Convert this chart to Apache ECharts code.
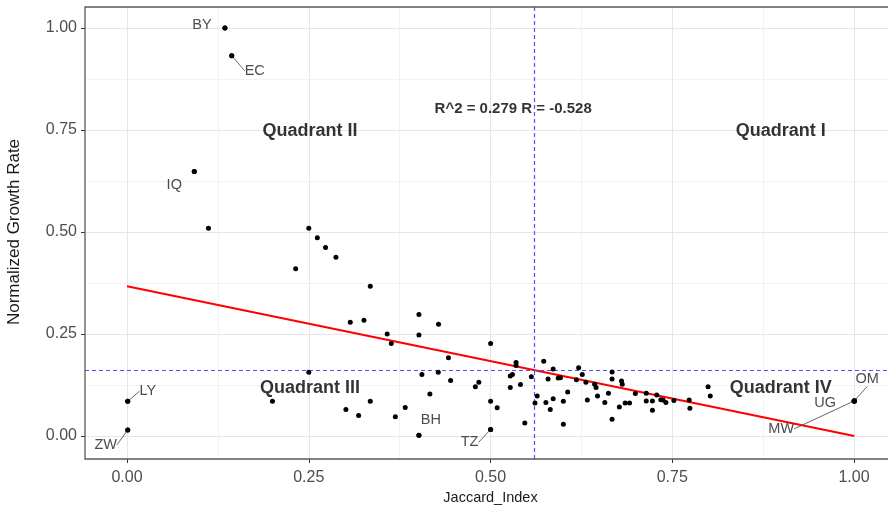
<!DOCTYPE html>
<html><head><meta charset="utf-8">
<script src="https://cdn.jsdelivr.net/npm/echarts@6/dist/echarts.min.js"></script>
<style>html,body{margin:0;padding:0;background:#fff}#c{width:888px;height:506px}</style>
</head><body><div id="c"></div>
<script>
// ---- data ----
const jaccard = [0.001,0.001,0.0925,0.112,0.1347,0.144,0.200,0.2319,0.250,0.250,
  0.2617,0.273,0.2873,0.301,0.307,0.3185,0.3258,0.3345,0.3345,0.3578,
  0.3634,0.369,0.3826,0.4014,0.4014,0.4014,0.4055,0.4165,0.4284,0.428,
  0.442,0.445,0.479,0.4838,0.500,0.500,0.509,0.500,0.527,0.527,
  0.530,0.535,0.535,0.541,0.547,0.556,0.561,0.564,0.573,0.576,
  0.579,0.582,0.586,0.586,0.593,0.596,0.600,0.600,0.606,0.618,
  0.621,0.626,0.631,0.633,0.643,0.645,0.647,0.657,0.662,0.667,
  0.667,0.667,0.677,0.680,0.681,0.685,0.691,0.699,0.714,0.714,
  0.7225,0.7225,0.7285,0.734,0.737,0.741,0.752,0.773,0.774,0.799,
  0.802,1.000,1.000,1.000];
const growth = [0.085,0.015,0.648,0.509,1.000,0.932,0.085,0.410,0.509,0.156,
  0.486,0.462,0.438,0.065,0.279,0.050,0.284,0.367,0.085,0.250,
  0.227,0.047,0.070,0.298,0.2475,0.002,0.151,0.103,0.274,0.156,
  0.192,0.136,0.121,0.132,0.227,0.085,0.069,0.016,0.119,0.147,
  0.151,0.180,0.173,0.126,0.032,0.145,0.081,0.098,0.183,0.082,
  0.140,0.065,0.164,0.091,0.142,0.143,0.085,0.029,0.108,0.138,
  0.167,0.151,0.132,0.088,0.127,0.119,0.098,0.082,0.105,0.157,
  0.140,0.041,0.071,0.135,0.127,0.081,0.081,0.104,0.1045,0.086,
  0.086,0.063,0.1005,0.089,0.088,0.082,0.087,0.088,0.068,0.121,
  0.098,0.086,0.086,0.086];
// indices (into the arrays above) of the labelled countries, and their codes
const labelIndex = [0, 1, 2, 4, 5, 25, 37, 91, 92, 93];
const labelName = ['LY', 'ZW', 'IQ', 'BY', 'EC', 'BH', 'TZ', 'MW', 'UG', 'OM'];
const regX = [0, 1];
const regY = [0.367, 0.0];
const thresholdX = 0.561;
const thresholdY = 0.161;
const annText = ['R^2 = 0.279 R = -0.528', 'Quadrant II', 'Quadrant I', 'Quadrant III', 'Quadrant IV'];
const annX = [0.531, 0.2515, 0.899, 0.2515, 0.899];
const annY = [0.801, 0.748, 0.748, 0.118, 0.118];
const xTitle = 'Jaccard_Index';
const yTitle = 'Normalized Growth Rate';

// ---- styling (label offsets in px, segments) ----
const FONT = 'Liberation Sans, Arial, Helvetica, sans-serif';
const labelOffset = {BY:[-23,-3], EC:[23,15], IQ:[-20,13], LY:[20,-10], ZW:[-22,15], BH:[12,-15], TZ:[-21,13], MW:[-73,28], UG:[-29,2], OM:[13,-22]};
const withSegment = {EC:1, LY:1, ZW:1, TZ:1, MW:1, OM:1};
const annSize = [15, 18, 18, 18, 18];

function codeOf(i) {
  const k = labelIndex.indexOf(i);
  return k >= 0 ? labelName[k] : '';
}

const chart = echarts.init(document.getElementById('c'), null, {renderer:'canvas'});

const pts = jaccard.map((x, i) => ({value:[x, growth[i]]}));
const labelled = labelIndex.map((idx, k) => ({
  value:[jaccard[idx], growth[idx]], name: labelName[k],
  labelLine:{show: !!withSegment[labelName[k]]}
}));

const gridLine = {show:true, lineStyle:{color:'#e6e6e6', width:1}};
const minorLine = {show:true, lineStyle:{color:'#efefef', width:0.8}};

const option = {
  backgroundColor:'#ffffff',
  animation:false,
  grid:[
    {left:85, right:-4, top:7, bottom:47, show:true, borderColor:'#5a5a5a', borderWidth:1.3, backgroundColor:'transparent', z:3, outerBoundsMode:'none', containLabel:false},
    {left:127, right:34, top:7, bottom:47, show:false, outerBoundsMode:'none', containLabel:false},
    {left:85, right:-4, top:28, bottom:70, show:false, outerBoundsMode:'none', containLabel:false}
  ],
  xAxis:[
    {gridIndex:0, type:'value', min:-0.05775, max:1.05191, show:false},
    {gridIndex:1, type:'value', min:0, max:1, interval:0.25,
      axisLine:{show:false}, axisTick:{show:true, length:4, lineStyle:{color:'#333', width:1}},
      axisLabel:{show:true, margin:11, color:'#4d4d4d', fontSize:16, fontFamily:FONT, formatter:v => v.toFixed(2)},
      splitLine:gridLine, minorTick:{show:false, splitNumber:2}, minorSplitLine:minorLine,
      name:xTitle, nameLocation:'middle', nameGap:28, nameTextStyle:{color:'#1a1a1a', fontSize:14.5, fontFamily:FONT}},
    {gridIndex:2, type:'value', min:0, max:1, show:false}
  ],
  yAxis:[
    {gridIndex:0, type:'value', min:-0.05637, max:1.05147, show:false},
    {gridIndex:1, type:'value', min:0, max:1, show:false},
    {gridIndex:2, type:'value', min:0, max:1, interval:0.25,
      axisLine:{show:false}, axisTick:{show:true, length:4, lineStyle:{color:'#333', width:1}},
      axisLabel:{show:true, margin:8, color:'#4d4d4d', fontSize:16, fontFamily:FONT, formatter:v => v.toFixed(2)},
      splitLine:gridLine, minorTick:{show:false, splitNumber:2}, minorSplitLine:minorLine,
      name:yTitle, nameLocation:'middle', nameGap:62, nameRotate:90, nameTextStyle:{color:'#1a1a1a', fontSize:17, fontFamily:FONT}}
  ],
  series:[
    {
      type:'line', xAxisIndex:0, yAxisIndex:0, silent:true, symbol:'none', z:4,
      data: regX.map((x, i) => [x, regY[i]]),
      lineStyle:{color:'#ff0000', width:2},
      markLine:{silent:true, symbol:['none','none'], label:{show:false},
        lineStyle:{color:'#5050ff', width:1.2, type:[4,3]},
        data:[{xAxis:thresholdX}, {yAxis:thresholdY}]}
    },
    {
      type:'scatter', xAxisIndex:0, yAxisIndex:0, silent:true, z:5,
      symbol:'circle', symbolSize:5, itemStyle:{color:'#000', opacity:1},
      data: pts,
      emphasis:{disabled:true}
    },
    {
      // country codes (ggrepel-style labels) for the labelled points
      type:'scatter', xAxisIndex:0, yAxisIndex:0, silent:true, z:5,
      symbol:'circle', symbolSize:5, itemStyle:{color:'#000', opacity:1},
      data: labelled,
      label:{show:true, position:'inside', color:'#4d4d4d', fontSize:14.5, fontFamily:FONT,
        formatter: p => labelName[p.dataIndex]},
      labelLine:{show:false, lineStyle:{color:'#555', width:0.9}},
      labelLayout: p => {
        const o = labelOffset[labelName[p.dataIndex]];
        return o ? {dx:o[0], dy:o[1]} : {};
      },
      emphasis:{disabled:true}
    },
    {
      type:'scatter', xAxisIndex:0, yAxisIndex:0, silent:true, z:6, symbolSize:0,
      data: annX.map((x, i) => ({value:[x, annY[i]], label:{fontSize:annSize[i]}})),
      label:{show:true, position:'inside', color:'#000', fontWeight:'bold', fontFamily:FONT,
        formatter: p => annText[p.dataIndex]},
      emphasis:{disabled:true}
    }
  ]
};
chart.setOption(option);
</script></body></html>
